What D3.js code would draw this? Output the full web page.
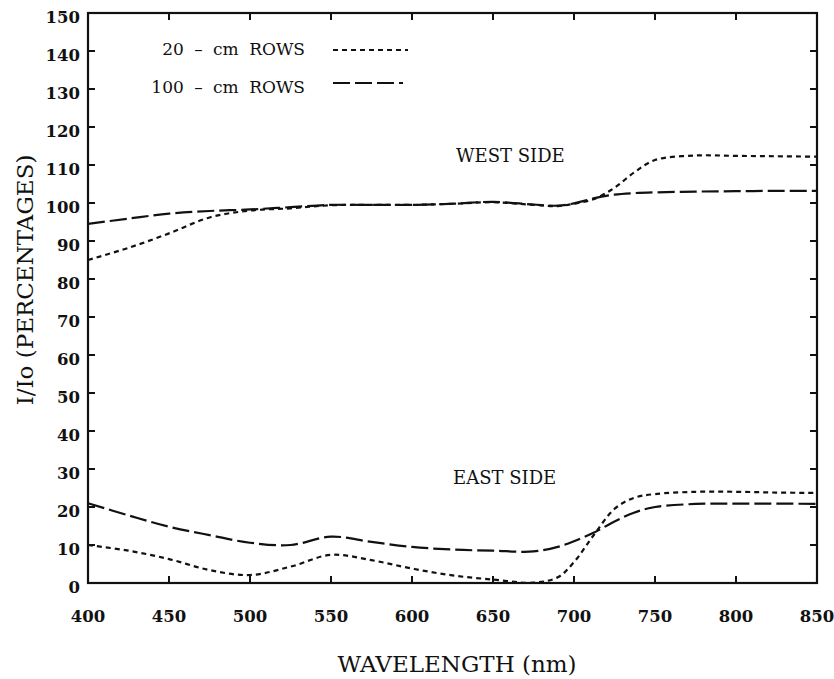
<!DOCTYPE html>
<html lang="en">
<head>
<meta charset="UTF-8">
<title>I/Io by wavelength</title>
<script src="https://d3js.org/d3.v7.min.js"></script>
<style>
  body { margin: 0; background: #fff; }
  svg { display: block; }
  .tick-label { font-family: "DejaVu Serif", serif; font-weight: bold; font-size: 16.5px; fill: #111; }
  .title { font-family: "DejaVu Serif", serif; font-size: 23px; fill: #111; }
  .note { font-family: "DejaVu Serif", serif; font-size: 18px; fill: #111; }
  .legend { font-family: "DejaVu Serif", serif; font-size: 17px; fill: #111; word-spacing: 5px; }
  .series { fill: none; stroke: #111; stroke-width: 2.2px; }
</style>
</head>
<body>
<script>
  // wavelengths (nm) shared by all four curves
  const wavelength = [400, 425, 450, 475, 500, 525, 550, 575, 600, 625, 650, 675, 690, 700, 712, 725, 737, 750, 775, 800, 825, 850];

  const west20 = [85, 88.2, 92, 96.2, 98, 98.6, 99.4, 99.5, 99.5, 99.8, 100.2, 99.5, 99.2, 99.8, 101, 104, 108, 111.3, 112.5, 112.4, 112.3, 112.2];
  const west100 = [94.5, 95.9, 97.2, 97.9, 98.3, 98.9, 99.5, 99.5, 99.5, 99.8, 100.3, 99.6, 99.3, 99.9, 101.2, 102.2, 102.6, 102.8, 103.0, 103.1, 103.2, 103.2];
  const east20 = [10.0, 8.5, 6.3, 3.4, 2.1, 4.3, 7.4, 6.0, 3.8, 2.0, 0.9, 0.1, 1.5, 5.5, 12.5, 19.5, 22.4, 23.4, 24.0, 24.0, 23.8, 23.7];
  const east100 = [21.0, 17.8, 14.8, 12.6, 10.6, 10.0, 12.2, 10.8, 9.5, 8.8, 8.5, 8.3, 9.5, 11.0, 13.2, 16.2, 18.5, 20.0, 20.8, 20.9, 20.9, 20.8];

  const xTicks = [400, 450, 500, 550, 600, 650, 700, 750, 800, 850];
  const yTicks = [0, 10, 20, 30, 40, 50, 60, 70, 80, 90, 100, 110, 120, 130, 140, 150];

  const legendLabels = ["20 – cm ROWS", "100 – cm ROWS"];
  const sideLabels = ["WEST SIDE", "EAST SIDE"];

  const DOTTED = "5,4";
  const DASHED = "17,5";

  const width = 834, height = 679;
  const margin = { top: 13, right: 17, bottom: 96, left: 88 };

  const svg = d3.select("body").append("svg")
    .attr("width", width)
    .attr("height", height);

  const x = d3.scaleLinear().domain([400, 850]).range([margin.left, width - margin.right]);
  const y = d3.scaleLinear().domain([0, 150]).range([height - margin.bottom, margin.top]);

  const line = d3.line()
    .x(d => x(d[0]))
    .y(d => y(d[1]))
    .curve(d3.curveCatmullRom.alpha(0.5));

  const series = [
    { values: west20, dash: DOTTED },
    { values: west100, dash: DASHED },
    { values: east20, dash: DOTTED },
    { values: east100, dash: DASHED }
  ];

  svg.append("g")
    .selectAll("path")
    .data(series)
    .join("path")
    .attr("class", "series")
    .attr("stroke-dasharray", d => d.dash)
    .attr("d", d => line(wavelength.map((w, i) => [w, d.values[i]])));

  // frame with inward ticks on all four sides
  const tickLen = 7;
  const frame = svg.append("g").attr("stroke", "#111").attr("fill", "none");
  frame.append("rect")
    .attr("x", x(400)).attr("y", y(150))
    .attr("width", x(850) - x(400)).attr("height", y(0) - y(150))
    .attr("stroke-width", 2.2);

  frame.selectAll(".xb").data(xTicks.slice(1, -1)).join("line")
    .attr("x1", d => x(d)).attr("x2", d => x(d))
    .attr("y1", y(0)).attr("y2", y(0) - tickLen)
    .attr("stroke-width", 2);
  frame.selectAll(".xt").data(xTicks.slice(1, -1)).join("line")
    .attr("x1", d => x(d)).attr("x2", d => x(d))
    .attr("y1", y(150)).attr("y2", y(150) + tickLen)
    .attr("stroke-width", 2);
  frame.selectAll(".yl").data(yTicks.slice(1, -1)).join("line")
    .attr("x1", x(400)).attr("x2", x(400) + tickLen)
    .attr("y1", d => y(d)).attr("y2", d => y(d))
    .attr("stroke-width", 2);
  frame.selectAll(".yr").data(yTicks.slice(1, -1)).join("line")
    .attr("x1", x(850)).attr("x2", x(850) - tickLen)
    .attr("y1", d => y(d)).attr("y2", d => y(d))
    .attr("stroke-width", 2);

  // tick labels
  svg.append("g").selectAll("text").data(xTicks).join("text")
    .attr("class", "tick-label")
    .attr("x", d => x(d))
    .attr("y", y(0) + 39)
    .attr("text-anchor", "middle")
    .text(d => d);

  svg.append("g").selectAll("text").data(yTicks).join("text")
    .attr("class", "tick-label")
    .attr("x", x(400) - 8)
    .attr("y", d => y(d) + 10)
    .attr("text-anchor", "end")
    .text(d => d);

  // axis titles
  svg.append("text").attr("class", "title")
    .attr("x", 457).attr("y", 672)
    .attr("text-anchor", "middle")
    .text("WAVELENGTH (nm)");

  svg.append("text").attr("class", "title")
    .attr("transform", "translate(33,280) rotate(-90)")
    .attr("text-anchor", "middle")
    .text("I/Io (PERCENTAGES)");

  // side notes
  svg.append("text").attr("class", "note").attr("x", 456).attr("y", 162).text(sideLabels[0]);
  svg.append("text").attr("class", "note").attr("x", 453).attr("y", 484).text(sideLabels[1]);

  // legend
  const legend = svg.append("g");
  const legendRows = [
    { label: legendLabels[0], dash: DOTTED, ty: 55, ly: 50, x2: 408 },
    { label: legendLabels[1], dash: DASHED, ty: 93, ly: 83, x2: 403 }
  ];
  legend.selectAll("text").data(legendRows).join("text")
    .attr("class", "legend")
    .attr("x", 305).attr("y", d => d.ty)
    .attr("text-anchor", "end")
    .text(d => d.label);
  legend.selectAll("line").data(legendRows).join("line")
    .attr("class", "series")
    .attr("x1", 333).attr("x2", d => d.x2)
    .attr("y1", d => d.ly).attr("y2", d => d.ly)
    .attr("stroke-dasharray", d => d.dash);
</script>
</body>
</html>
